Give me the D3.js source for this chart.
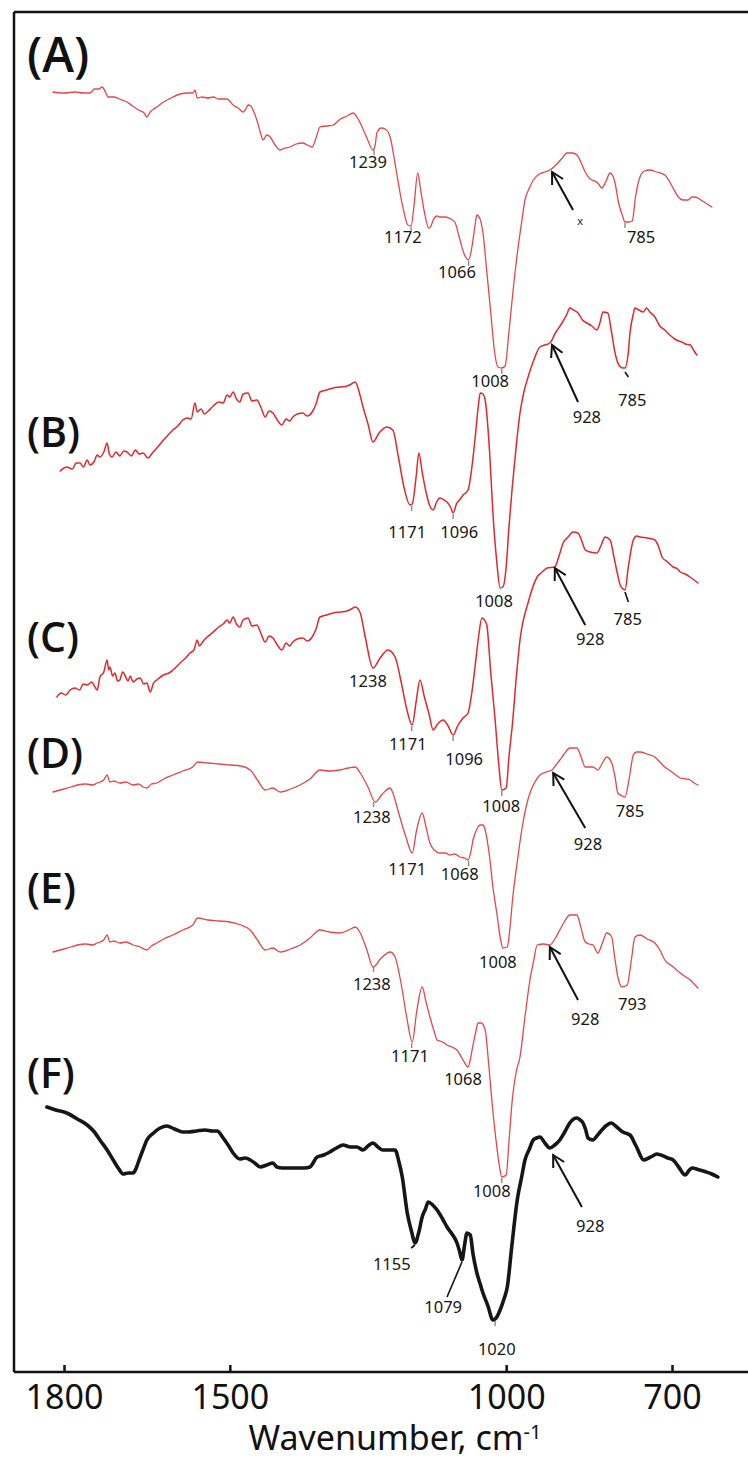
<!DOCTYPE html>
<html>
<head>
<meta charset="utf-8">
<script src="https://cdn.jsdelivr.net/npm/d3@7"></script>
<style>
  body { margin: 0; background: #fff; }
  svg { display: block; }
</style>
</head>
<body>
<div id="chart"></div>
<script>
// FTIR spectra, stacked. x = wavenumber (cm-1), y = offset transmittance (a.u.)
const wavenumberTicks = [1800, 1500, 1000, 700];

const spectrumA = [[1820,128.0],[1800,127.9],[1780,128.0],[1765,127.9],[1753,127.9],[1745,128.3],[1737,128.3],[1731,128.5],[1725,128.0],[1720,127.5],[1710,127.5],[1700,127.3],[1686,127.0],[1676,126.6],[1665,126.2],[1655,125.9],[1650,125.5],[1644,126.0],[1638,126.3],[1632,126.5],[1620,127.0],[1610,127.3],[1603,127.5],[1590,127.8],[1577,127.9],[1567,127.9],[1563,128.2],[1559,127.4],[1550,127.5],[1540,127.4],[1530,127.5],[1520,127.3],[1505,127.3],[1500,127.1],[1494,126.7],[1485,126.4],[1476,126.0],[1470,126.4],[1467,126.7],[1462,126.6],[1458,126.2],[1450,125.0],[1444,123.8],[1440,123.2],[1433,123.7],[1427,123.5],[1418,122.7],[1409,122.2],[1400,122.4],[1391,122.5],[1380,122.8],[1368,122.9],[1360,122.7],[1351,122.5],[1344,123.4],[1337,124.5],[1325,124.6],[1313,124.7],[1300,125.3],[1288,125.6],[1277,125.9],[1270,125.5],[1264,124.9],[1252,123.4],[1241,122.2],[1237,122.7],[1234,123.9],[1226,124.4],[1219,124.3],[1210,123.5],[1200,120.5],[1192,117.9],[1185,116.0],[1178,114.7],[1172,114.6],[1167,116.5],[1160,119.9],[1155,118.3],[1148,116.0],[1140,114.4],[1136,114.6],[1132,115.2],[1125,115.6],[1120,115.5],[1110,115.5],[1100,115.3],[1093,115.0],[1085,113.5],[1076,111.8],[1068,111.2],[1062,112.5],[1056,114.8],[1053,115.7],[1048,115.4],[1042,113.9],[1035,110.0],[1028,106.0],[1021,102.0],[1015,100.5],[1008,100.4],[1002,100.6],[995,104.0],[988,107.9],[980,111.8],[972,115.0],[966,117.2],[958,118.4],[951,119.2],[940,119.8],[930,120.0],[921,120.2],[910,120.7],[900,121.3],[890,121.9],[880,121.9],[872,121.7],[865,121.0],[857,120.0],[848,119.3],[840,119.1],[834,118.9],[827,118.4],[820,119.0],[812,119.9],[807,119.6],[803,118.9],[797,117.0],[790,115.7],[785,115.0],[778,115.0],[772,115.1],[766,117.5],[758,119.5],[750,120.1],[740,120.2],[728,120.0],[713,119.7],[700,118.6],[690,117.6],[680,117.2],[671,117.2],[664,117.5],[658,117.5],[645,117.1],[628,116.5]];

const spectrumB = [[1807,90.1],[1795,90.5],[1785,90.3],[1778,90.9],[1771,90.9],[1765,90.5],[1758,91.2],[1753,90.7],[1745,91.1],[1740,91.7],[1735,91.5],[1728,92.0],[1722,92.9],[1718,91.8],[1713,91.5],[1706,92.0],[1699,91.6],[1692,92.1],[1686,92.0],[1678,91.6],[1671,92.2],[1664,91.8],[1657,91.9],[1648,91.4],[1640,91.9],[1632,92.4],[1620,93.2],[1610,93.8],[1603,94.2],[1594,94.6],[1585,95.2],[1577,95.4],[1570,95.3],[1563,96.9],[1559,96.0],[1552,96.3],[1546,95.8],[1541,96.0],[1530,96.6],[1520,97.0],[1512,96.9],[1505,97.7],[1500,97.5],[1494,98.0],[1488,97.3],[1482,97.0],[1476,97.8],[1467,97.9],[1460,97.1],[1451,97.2],[1444,96.5],[1436,95.5],[1429,96.1],[1422,95.9],[1414,95.2],[1406,94.7],[1398,95.3],[1392,95.1],[1386,95.5],[1378,95.8],[1368,95.9],[1360,95.6],[1351,96.0],[1344,96.8],[1337,98.0],[1325,98.2],[1313,98.4],[1300,98.5],[1288,98.6],[1280,98.8],[1273,99.0],[1266,98.0],[1259,96.5],[1250,94.8],[1241,93.0],[1230,93.9],[1216,94.5],[1205,94.2],[1195,91.5],[1185,88.5],[1174,86.7],[1170,86.8],[1163,89.5],[1158,91.9],[1152,90.0],[1145,88.0],[1140,86.9],[1132,86.2],[1126,87.0],[1120,87.4],[1112,87.2],[1107,87.0],[1100,86.4],[1096,85.9],[1090,86.8],[1083,87.3],[1078,87.7],[1069,88.2],[1062,90.5],[1056,93.5],[1050,96.8],[1047,97.9],[1042,97.8],[1038,97.2],[1030,92.0],[1024,85.9],[1017,81.0],[1011,78.4],[1006,78.5],[1000,80.5],[995,84.5],[989,88.5],[982,92.5],[975,95.9],[968,98.0],[962,99.2],[950,101.2],[939,102.5],[930,102.7],[921,102.9],[910,104.0],[899,104.9],[890,105.8],[885,106.4],[878,106.2],[870,105.9],[862,105.2],[854,104.9],[845,104.6],[836,104.2],[830,105.0],[825,106.0],[816,105.9],[810,104.2],[803,101.9],[795,100.6],[789,100.4],[785,100.4],[779,102.0],[776,103.9],[770,105.8],[767,106.4],[760,106.2],[752,106.0],[746,106.4],[740,106.0],[731,105.5],[722,104.6],[713,104.2],[704,103.7],[695,103.3],[688,103.1],[682,103.0],[676,102.8],[667,102.7],[660,102.1],[655,101.7]];

const spectrumC = [[1813,67.5],[1805,67.9],[1797,67.7],[1789,68.2],[1780,68.4],[1772,68.2],[1765,68.8],[1758,68.7],[1750,69.0],[1745,68.6],[1740,68.2],[1735,69.5],[1728,70.0],[1722,71.2],[1719,70.2],[1717,70.5],[1712,69.6],[1708,69.9],[1703,69.1],[1699,69.2],[1694,70.0],[1690,69.7],[1684,69.1],[1680,69.6],[1675,69.0],[1668,69.3],[1662,69.4],[1656,68.8],[1650,68.9],[1644,68.0],[1638,68.9],[1632,69.2],[1620,69.7],[1610,69.9],[1603,70.2],[1590,70.9],[1580,71.4],[1572,71.9],[1565,72.2],[1559,73.2],[1555,72.6],[1548,73.1],[1541,73.5],[1530,74.0],[1520,74.5],[1512,74.8],[1505,75.2],[1500,74.9],[1494,75.5],[1488,74.8],[1482,74.5],[1476,75.2],[1467,75.4],[1460,74.6],[1451,74.7],[1444,73.9],[1436,73.0],[1429,73.6],[1422,73.4],[1414,72.7],[1406,72.2],[1398,72.9],[1392,72.6],[1386,73.0],[1378,73.3],[1368,73.4],[1360,73.1],[1351,73.5],[1344,74.3],[1337,75.5],[1325,75.7],[1313,75.9],[1300,76.0],[1288,76.1],[1280,76.3],[1273,76.5],[1264,75.9],[1255,73.5],[1241,70.4],[1228,71.4],[1214,72.2],[1201,71.5],[1190,69.0],[1180,66.3],[1170,64.7],[1163,67.0],[1156,69.2],[1148,67.5],[1140,65.9],[1132,64.2],[1124,64.8],[1114,65.2],[1105,64.6],[1096,63.7],[1088,64.6],[1078,65.4],[1069,65.9],[1062,68.0],[1056,70.7],[1050,73.5],[1044,75.4],[1038,75.1],[1035,74.7],[1028,70.0],[1020,65.2],[1013,60.5],[1008,58.2],[1000,58.4],[995,61.5],[988,65.2],[982,69.3],[975,73.2],[960,77.0],[944,79.5],[935,80.0],[926,80.4],[912,80.5],[905,81.5],[897,82.9],[888,83.5],[879,84.0],[870,83.9],[862,82.9],[857,82.2],[848,82.0],[836,81.9],[828,82.7],[821,83.5],[812,83.2],[805,81.5],[799,79.9],[793,78.6],[785,78.2],[779,80.5],[770,83.2],[764,83.6],[758,83.5],[745,83.4],[731,83.2],[724,82.5],[718,81.5],[708,81.0],[698,80.5],[690,80.3],[685,80.0],[676,79.8],[665,79.4],[653,78.9]];

const spectrumD = [[1820,58.0],[1800,58.3],[1787,58.5],[1776,58.7],[1760,58.8],[1748,58.7],[1740,58.9],[1735,59.0],[1728,59.2],[1722,59.7],[1717,59.0],[1710,59.1],[1699,58.9],[1688,59.0],[1675,58.7],[1665,58.8],[1657,58.5],[1650,58.4],[1642,58.8],[1632,58.9],[1620,59.3],[1603,59.7],[1585,60.1],[1567,60.5],[1558,61.0],[1540,60.9],[1520,60.8],[1500,60.7],[1480,60.6],[1463,60.2],[1450,59.2],[1436,58.2],[1422,58.4],[1409,58.0],[1390,58.3],[1373,58.7],[1355,59.3],[1337,60.2],[1320,60.1],[1301,60.2],[1285,60.4],[1273,60.5],[1264,59.9],[1250,58.5],[1237,57.0],[1224,57.8],[1210,58.4],[1205,57.9],[1195,56.0],[1182,53.6],[1170,51.9],[1162,54.2],[1152,55.9],[1145,54.5],[1138,52.9],[1130,52.2],[1120,51.9],[1110,51.9],[1102,51.7],[1093,51.8],[1084,51.5],[1075,51.4],[1069,51.2],[1064,52.0],[1060,53.2],[1053,54.3],[1047,54.7],[1042,54.7],[1038,54.2],[1030,51.5],[1024,48.5],[1017,45.9],[1010,43.2],[1006,42.4],[998,42.5],[993,44.5],[988,47.5],[980,51.0],[971,54.5],[964,56.5],[957,57.9],[948,59.0],[939,59.7],[928,60.0],[917,60.2],[910,60.7],[903,61.2],[895,61.8],[885,62.4],[872,62.4],[865,61.6],[857,60.5],[850,60.5],[843,60.5],[834,60.2],[826,60.9],[818,61.5],[809,60.9],[803,59.5],[798,57.9],[790,57.6],[785,57.5],[777,59.5],[770,61.7],[764,62.0],[758,62.0],[745,61.8],[731,61.5],[722,61.0],[713,60.5],[700,60.0],[685,59.4],[675,59.3],[667,59.2],[660,58.9],[653,58.7]];

const spectrumE = [[1820,42.0],[1800,42.3],[1787,42.5],[1776,42.7],[1760,42.8],[1748,42.7],[1740,42.9],[1735,43.0],[1728,43.2],[1722,43.7],[1717,43.0],[1710,43.1],[1699,42.9],[1688,43.0],[1675,42.7],[1662,42.5],[1650,42.2],[1642,42.6],[1632,42.9],[1620,43.3],[1603,43.7],[1585,44.2],[1567,44.7],[1558,45.4],[1540,45.2],[1520,45.1],[1500,45.0],[1480,44.7],[1463,44.2],[1450,43.2],[1436,42.2],[1422,42.4],[1409,42.0],[1390,42.3],[1373,42.7],[1355,43.4],[1337,44.2],[1320,44.0],[1301,43.9],[1285,44.2],[1273,44.5],[1264,43.9],[1252,42.2],[1241,40.5],[1226,41.4],[1210,42.0],[1201,41.5],[1190,38.8],[1180,35.5],[1170,33.0],[1162,36.0],[1152,38.5],[1145,37.0],[1138,35.5],[1130,34.0],[1125,33.2],[1115,33.0],[1107,32.7],[1098,32.5],[1089,32.2],[1078,31.2],[1069,30.5],[1064,31.5],[1060,32.7],[1055,34.0],[1051,34.9],[1045,34.9],[1038,34.2],[1032,31.0],[1026,27.2],[1018,23.0],[1012,20.5],[1008,19.5],[1000,19.7],[995,23.0],[989,27.2],[982,30.0],[975,31.5],[966,35.5],[957,39.2],[950,41.2],[944,42.7],[932,42.8],[921,42.7],[912,43.3],[903,44.2],[895,45.0],[885,45.7],[872,45.7],[865,44.5],[857,43.0],[850,42.8],[843,42.7],[834,41.9],[826,42.9],[818,43.9],[809,43.5],[804,41.6],[798,39.5],[790,38.5],[781,38.7],[774,41.0],[767,43.5],[758,43.7],[745,43.3],[731,42.9],[722,42.2],[713,41.2],[700,40.6],[685,39.9],[675,39.5],[667,39.2],[660,38.8],[653,38.4]];

const spectrumF = [[1831,26.5],[1815,26.2],[1795,25.9],[1776,25.3],[1758,24.7],[1745,24.0],[1735,23.2],[1722,22.2],[1711,21.2],[1702,20.4],[1693,19.8],[1684,19.9],[1675,19.9],[1670,20.3],[1666,20.9],[1658,22.1],[1650,23.2],[1638,23.9],[1626,24.4],[1614,24.6],[1600,24.3],[1585,24.0],[1576,24.0],[1560,24.1],[1545,24.2],[1532,24.1],[1523,24.1],[1512,23.4],[1502,22.6],[1494,21.9],[1482,21.3],[1472,21.4],[1463,21.2],[1455,20.9],[1445,20.5],[1433,20.7],[1422,20.9],[1415,20.5],[1405,20.4],[1397,20.4],[1380,20.4],[1365,20.4],[1355,20.5],[1342,21.5],[1330,21.7],[1319,22.0],[1307,22.4],[1295,22.7],[1282,22.5],[1270,22.5],[1259,22.2],[1250,22.6],[1241,22.9],[1232,22.5],[1223,22.2],[1210,22.2],[1201,22.2],[1194,21.0],[1188,19.5],[1179,15.9],[1171,14.0],[1165,12.9],[1158,14.0],[1152,15.5],[1146,16.3],[1141,17.0],[1133,16.7],[1125,16.2],[1115,15.3],[1107,14.5],[1098,13.8],[1089,12.9],[1084,12.0],[1080,11.2],[1075,12.8],[1071,13.9],[1065,13.7],[1060,11.8],[1053,9.9],[1047,8.8],[1042,7.9],[1033,6.6],[1024,5.2],[1017,5.5],[1011,6.2],[1004,7.3],[998,8.5],[990,12.5],[980,17.2],[972,19.5],[966,21.2],[958,22.3],[951,23.2],[945,23.4],[939,23.5],[930,22.9],[921,22.4],[912,22.7],[903,23.2],[894,24.0],[885,24.9],[878,25.3],[872,25.4],[866,25.2],[861,24.9],[856,24.2],[852,23.4],[843,23.2],[836,23.6],[830,24.0],[820,24.6],[810,24.9],[800,24.5],[789,24.0],[776,23.7],[765,22.6],[751,21.2],[742,21.4],[735,21.6],[728,21.8],[720,21.7],[708,21.4],[698,21.2],[688,20.5],[676,19.7],[670,20.1],[664,20.4],[650,20.2],[638,20.0],[628,19.8],[617,19.5]];

// peak labels: [text, wavenumber, level] (label centre / baseline in data units)
const peakLabelsA = [['1239',1250,120.4],['1172',1187,112.9],['1066',1089,109.4],['1008',1029,98.5],['785',756,112.9]];
const peakLabelsB = [['1171',1179,83.4],['1096',1085,83.4],['1008',1022,76.5],['928',854,94.9],['785',772,96.6]];
const peakLabelsC = [['1238',1250,68.5],['1171',1178,62.2],['1096',1076,60.7],['1008',1009,56.0],['928',848,72.7],['785',780,74.7]];
const peakLabelsD = [['1238',1243,54.9],['1171',1179,49.7],['1068',1084,49.2],['1008',1015,40.4],['928',852,52.2],['785',776,55.5]];
const peakLabelsE = [['1238',1243,38.2],['1171',1174,31.0],['1068',1078,28.7],['1008',1026,17.5],['928',857,34.7],['793',772,36.2]];
const peakLabelsF = [['1155',1207,10.2],['1079',1114,5.9],['1020',1017,1.7],['928',848,14.0]];

// arrows: [from wavenumber, from level, to wavenumber, to level]
const arrowsData = [[879,116.2,917,120.0],[870,97.0,917,102.7],[857,74.7,912,80.4],[857,54.4,915,59.9],[870,37.2,921,42.5],[863,16.5,915,21.7]];
// plain leader lines
const leaderData = [[785,100.0,779,99.5],[785,78.0,779,77.0],[1080,11.0,1107,7.5],[1165,12.7,1172,12.4]];
// small grey marks under labelled minima: [wavenumber, level]
const minimaMarks = [[1239,122.2],[1172,114.5],[1068,111.1],[1008,100.3],[785,114.9],[1171,86.6],[1096,85.8],[1171,64.6],[1096,63.6],[1008,58.1],[1240,57.0],[1068,51.1],[1240,40.5],[1171,32.9],[1008,19.4],[1020,5.1]];

const panelNames = ['(A)', '(B)', '(C)', '(D)', '(E)', '(F)'];
const panelLevels = [130.0, 92.5, 72.0, 60.4, 46.9, 28.4];

// ---- layout
const width = 748;
const height = 1459;
const frameLeft = 14, frameTop = 12, frameBottom = 1372;
const font = '"Noto Sans", "Open Sans", sans-serif';

const svg = d3.select('#chart').append('svg')
    .attr('width', width)
    .attr('height', height);

const x = d3.scaleLinear().domain([1800, 700]).range([64, 672]);
const y = d3.scaleLinear().domain([0, 136]).range([frameBottom, frameTop]);

const line = d3.line()
    .x(d => x(d[0]))
    .y(d => y(d[1]))
    .curve(d3.curveMonotoneX);

const spectra = [
    { data: spectrumA, color: '#e3474b', w: 1.3 },
    { data: spectrumB, color: '#e0282e', w: 1.5 },
    { data: spectrumC, color: '#e0282e', w: 1.5 },
    { data: spectrumD, color: '#e3474b', w: 1.3 },
    { data: spectrumE, color: '#e3474b', w: 1.3 },
    { data: spectrumF, color: '#161616', w: 3.6 }
];

// grey minima marks go under the curves
svg.append('g').selectAll('line')
    .data(minimaMarks)
    .join('line')
    .attr('x1', d => x(d[0])).attr('x2', d => x(d[0]))
    .attr('y1', d => y(d[1])).attr('y2', d => y(d[1]) + 5)
    .attr('stroke', '#8a8a8a')
    .attr('stroke-width', 1.4);

spectra.forEach(s => {
    svg.append('path')
        .datum(s.data)
        .attr('d', line)
        .attr('fill', 'none')
        .attr('stroke', s.color)
        .attr('stroke-width', s.w)
        .attr('stroke-linejoin', 'round')
        .attr('stroke-linecap', 'round');
});

// frame
svg.append('line').attr('x1', frameLeft).attr('x2', frameLeft)
    .attr('y1', frameTop).attr('y2', frameBottom)
    .attr('stroke', '#111').attr('stroke-width', 2.5);
svg.append('line').attr('x1', frameLeft).attr('x2', width)
    .attr('y1', frameTop).attr('y2', frameTop)
    .attr('stroke', '#111').attr('stroke-width', 2.5);

// x axis
const xAxis = d3.axisBottom(x)
    .tickValues(wavenumberTicks)
    .tickSizeInner(-7)
    .tickSizeOuter(0)
    .tickPadding(13)
    .tickFormat(d3.format('d'));

const gx = svg.append('g')
    .attr('transform', `translate(0,${frameBottom})`)
    .call(xAxis);
gx.select('.domain').remove();
gx.selectAll('.tick line').attr('stroke', '#111').attr('stroke-width', 2.5);
gx.selectAll('.tick text')
    .attr('fill', '#111')
    .style('font-family', font)
    .style('font-size', '34px');
svg.append('line').attr('x1', frameLeft).attr('x2', width)
    .attr('y1', frameBottom).attr('y2', frameBottom)
    .attr('stroke', '#111').attr('stroke-width', 2.5);

const title = svg.append('text')
    .attr('x', 395).attr('y', 1450)
    .attr('text-anchor', 'middle')
    .attr('fill', '#111')
    .style('font-family', font)
    .style('font-size', '34px');
title.append('tspan').text('Wavenumber, cm');
title.append('tspan').attr('dy', -11).style('font-size', '20px').text('-1');

// panel letters
svg.selectAll('text.panel')
    .data(panelNames)
    .join('text')
    .attr('class', 'panel')
    .attr('x', 27)
    .attr('y', (d, i) => y(panelLevels[i]))
    .attr('fill', '#111')
    .style('font-family', '"Open Sans", "Noto Sans", sans-serif')
    .style('font-weight', 600)
    .style('font-size', (d, i) => i === 0 ? '48px' : '41px')
    .text(d => d);

// peak labels
const allLabels = [peakLabelsA, peakLabelsB, peakLabelsC, peakLabelsD, peakLabelsE, peakLabelsF];
allLabels.forEach(set => {
    svg.append('g').selectAll('text')
        .data(set)
        .join('text')
        .attr('x', d => x(d[1]))
        .attr('y', d => y(d[2]))
        .attr('text-anchor', 'middle')
        .attr('fill', '#161616')
        .style('font-family', font)
        .style('font-size', '16.5px')
        .text(d => d[0]);
});

svg.append('text')
    .attr('x', x(866)).attr('y', y(114.7))
    .attr('text-anchor', 'middle')
    .attr('fill', '#222')
    .style('font-family', font)
    .style('font-size', '11px')
    .text('x');

// arrows with open heads
arrowsData.forEach(a => {
    const x0 = x(a[0]), y0 = y(a[1]), x1 = x(a[2]), y1 = y(a[3]);
    const ang = Math.atan2(y1 - y0, x1 - x0);
    const len = 13, spread = 0.5;
    svg.append('line')
        .attr('x1', x0).attr('y1', y0).attr('x2', x1).attr('y2', y1)
        .attr('stroke', '#111').attr('stroke-width', 2);
    const p1 = [x1 - len * Math.cos(ang - spread), y1 - len * Math.sin(ang - spread)];
    const p2 = [x1 - len * Math.cos(ang + spread), y1 - len * Math.sin(ang + spread)];
    svg.append('path')
        .attr('d', `M${p1[0]},${p1[1]}L${x1},${y1}L${p2[0]},${p2[1]}`)
        .attr('fill', 'none')
        .attr('stroke', '#111')
        .attr('stroke-width', 2);
});

leaderData.forEach(l => {
    svg.append('line')
        .attr('x1', x(l[0])).attr('y1', y(l[1]))
        .attr('x2', x(l[2])).attr('y2', y(l[3]))
        .attr('stroke', '#111').attr('stroke-width', 1.6);
});
</script>
</body>
</html>
